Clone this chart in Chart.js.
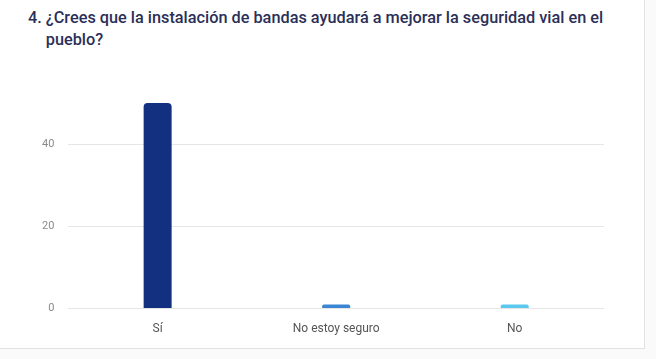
<!DOCTYPE html>
<html>
<head>
<meta charset="utf-8">
<script src="https://cdn.jsdelivr.net/npm/chart.js@4/dist/chart.umd.min.js"></script>
<style>
  html, body { margin: 0; padding: 0; background: #fafafa; }
  body { width: 656px; height: 359px; overflow: hidden; position: relative; font-family: Roboto, "Noto Sans", sans-serif; }
  .card { position: absolute; left: 0; top: 0; width: 644px; height: 348px; background: #fff; border-right: 1px solid #e2e2e2; border-bottom: 1px solid #e2e2e2; }
  .title { position: absolute; left: 28px; top: 7px; width: 596px; display: flex; font-size: 16.3px; font-weight: 500; line-height: 22px; color: #2b2f58; }
  .title .num { flex: 0 0 auto; margin-right: 4px; }
  .chart-box { position: absolute; left: 0; top: 60px; width: 644px; height: 288px; }
</style>
</head>
<body>
<div class="card">
  <div class="title"><span class="num">4.</span><span>¿Crees que la instalación de bandas ayudará a mejorar la seguridad vial en el pueblo?</span></div>
  <div class="chart-box"><canvas id="chart"></canvas></div>
</div>
<script>
// answers and counts
const categories = ['Sí', 'No estoy seguro', 'No'];
const counts = [50, 1, 1];
const barColors = ['#12307f', '#3a86d4', '#5bc8ee'];
const yTicks = [0, 20, 40];

document.addEventListener('DOMContentLoaded', function() {
    let ctx = document.getElementById('chart').getContext('2d');
    new Chart(ctx, {
        type: 'bar',
        data: {
            labels: categories,
            datasets: [{
                data: counts,
                backgroundColor: barColors,
                borderRadius: { topLeft: 4, topRight: 4 },
                borderSkipped: 'bottom',
                maxBarThickness: 28
            }]
        },
        options: {
            responsive: true,
            maintainAspectRatio: false,
            animation: false,
            layout: { padding: { left: 28, right: 40, top: 43, bottom: 7 } },
            plugins: { legend: { display: false }, tooltip: { enabled: false } },
            scales: {
                x: {
                    grid: { display: false },
                    border: { display: false },
                    ticks: { color: '#555', font: { family: 'Roboto', size: 12 }, padding: 5 }
                },
                y: {
                    min: 0,
                    max: 50,
                    afterBuildTicks: function(axis) {
                        axis.ticks = yTicks.map(v => ({ value: v }));
                    },
                    grid: { color: '#e6e6e6', drawTicks: false },
                    border: { display: false },
                    ticks: { color: '#8a8a8a', font: { family: 'Roboto', size: 11 }, padding: 14 }
                }
            }
        }
    });
});
</script>
</body>
</html>
